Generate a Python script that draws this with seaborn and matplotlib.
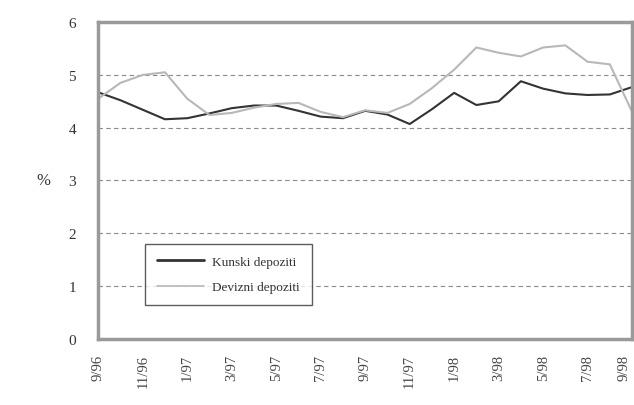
import numpy as np, pandas as pd
import matplotlib
matplotlib.use("Agg")
import matplotlib.pyplot as plt
import matplotlib.transforms as mtrans
import seaborn as sns

# ---------------- DATA ----------------
months = ["9/96", "10/96", "11/96", "12/96", "1/97", "2/97", "3/97", "4/97", "5/97",
          "6/97", "7/97", "8/97", "9/97", "10/97", "11/97", "12/97", "1/98", "2/98",
          "3/98", "4/98", "5/98", "6/98", "7/98", "8/98", "9/98"]

kunski = [4.67, 4.52, 4.34, 4.16, 4.18, 4.27, 4.37, 4.42, 4.42, 4.32, 4.21, 4.18,
          4.32, 4.25, 4.07, 4.35, 4.66, 4.43, 4.50, 4.88, 4.74, 4.65, 4.62, 4.63, 4.77]

devizni = [4.55, 4.85, 5.00, 5.05, 4.55, 4.24, 4.28, 4.38, 4.45, 4.47, 4.30, 4.20,
           4.33, 4.28, 4.45, 4.75, 5.10, 5.52, 5.42, 5.35, 5.52, 5.56, 5.25, 5.20, 4.30]

series_names = ["Kunski depoziti", "Devizni depoziti"]
y_ticks = [0, 1, 2, 3, 4, 5, 6]

# ---------------- FRAME ----------------
df = pd.DataFrame({"idx": np.arange(len(months)), "month": months,
                   series_names[0]: kunski, series_names[1]: devizni})
long = df.melt(id_vars=["idx", "month"], var_name="serija", value_name="val")

sns.set_style("white")
plt.rcParams['font.family'] = ['Liberation Serif', 'DejaVu Serif']

fig = plt.figure(figsize=(6.34, 4.06), dpi=100)
ax = fig.add_axes([0.155, 0.163, 0.842, 0.78])

# dashed grid first so lines sit on top
for v in y_ticks[1:-1]:
    ax.axhline(v, color="#8a8a8a", lw=0.8, ls=(0, (4, 3)), zorder=0)

sns.lineplot(data=long, x="idx", y="val", hue="serija", hue_order=series_names,
             palette=["#333333", "#b8b8b8"], ax=ax, sort=False, estimator=None)
ax.lines[-2].set_linewidth(2.0)
ax.lines[-1].set_linewidth(1.4)

ax.set_xlim(0, len(months) - 1)
ax.set_ylim(0, 6)
ax.set_yticks(y_ticks)
ax.set_yticklabels([str(v) for v in y_ticks], fontsize=11, color="#333333")
ax.tick_params(axis="y", length=0, pad=16)

xt = list(range(0, len(months), 2))
ax.set_xticks(xt)
ax.set_xticklabels([months[i] for i in xt], rotation=90, fontsize=10.5, color="#444444")
ax.tick_params(axis="x", length=5, width=0.8, color="#777777", direction="out", pad=6)
# no tick marks at both ends, like the original
tl = ax.xaxis.get_major_ticks()
tl[0].tick1line.set_visible(False)
tl[-1].tick1line.set_visible(False)
last = ax.get_xticklabels()[-1]
last.set_transform(last.get_transform() + mtrans.ScaledTranslation(-8 / 100, 0, fig.dpi_scale_trans))

ax.set_xlabel("")
ax.set_ylabel("%", rotation=0, fontsize=12, color="#333333", labelpad=18, va="center")

for s in ax.spines.values():
    s.set_color("#9a9a9a")
    s.set_linewidth(2.5)

# ---------------- LEGEND ----------------
h, l = ax.get_legend_handles_labels()
h[0].set_linewidth(2.0)
h[1].set_linewidth(1.2)
leg = ax.legend(h, l, loc="lower left", bbox_to_anchor=(0.075, 0.085), fontsize=9.5,
                frameon=True, fancybox=False, edgecolor="#333333", handlelength=3.6,
                handletextpad=0.6, borderpad=0.9, labelspacing=1.0)
leg.get_frame().set_linewidth(1.0)
for t in leg.get_texts():
    t.set_color("#333333")

fig.savefig("out.png", dpi=100)
